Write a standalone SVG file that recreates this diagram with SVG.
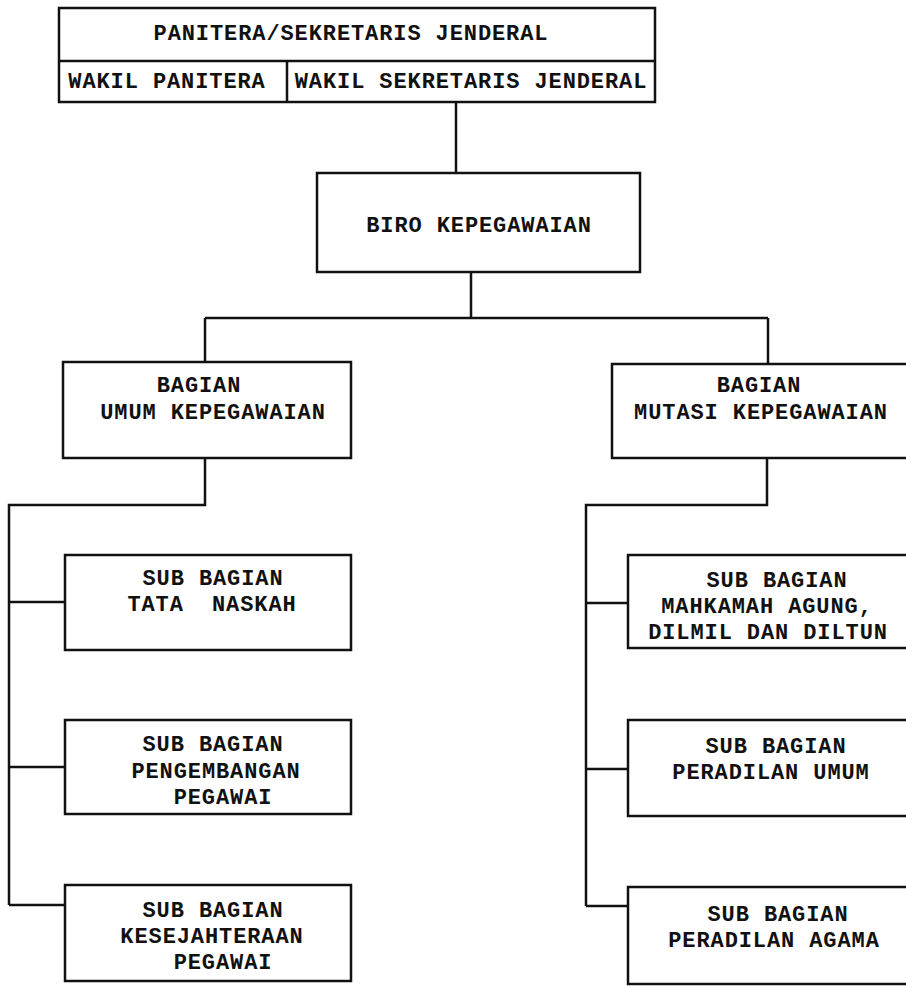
<svg xmlns="http://www.w3.org/2000/svg" width="906" height="987" viewBox="0 0 906 987">
<style>
.box{fill:#fff;stroke:#111;stroke-width:2.5}
.ln{fill:none;stroke:#111;stroke-width:2.5}
text{font-family:"Liberation Mono","DejaVu Sans Mono",monospace;font-weight:bold;font-size:22px;letter-spacing:0.9px;fill:#111;text-anchor:middle}
</style>
<rect width="906" height="987" fill="#fff"/>
<g id="connectors">
<path class="ln" d="M456,102 V173"/>
<path class="ln" d="M471,272 V318 M205,318 H768 M205,318 V362 M768,318 V364"/>
<path class="ln" d="M205,458 V505 H9 V905 M9,602 H65 M9,767 H65 M9,905 H65"/>
<path class="ln" d="M767,458 V505 H586 V906 M586,603 H628 M586,769 H628 M586,906 H628"/>
</g>
<g id="panitera">
<rect class="box" x="59" y="8" width="596" height="94"/>
<path class="ln" d="M59,61 H655 M287,61 V102"/>
<text x="351" y="40">PANITERA/SEKRETARIS JENDERAL</text>
<text x="167" y="88">WAKIL PANITERA</text>
<text x="471" y="88">WAKIL SEKRETARIS JENDERAL</text>
</g>
<g id="biro">
<rect class="box" x="317" y="173" width="323" height="99"/>
<text x="479" y="232">BIRO KEPEGAWAIAN</text>
</g>
<g id="bagian-umum">
<rect class="box" x="63" y="362" width="288" height="96"/>
<text x="199" y="392">BAGIAN</text>
<text x="213" y="419">UMUM KEPEGAWAIAN</text>
</g>
<g id="bagian-mutasi">
<rect class="box" x="612" y="364" width="300" height="94"/>
<text x="759" y="392">BAGIAN</text>
<text x="761" y="419">MUTASI KEPEGAWAIAN</text>
</g>
<g id="sub-tata-naskah">
<rect class="box" x="65" y="555" width="286" height="95"/>
<text x="213" y="585">SUB BAGIAN</text>
<text x="212" y="611" xml:space="preserve">TATA  NASKAH</text>
</g>
<g id="sub-pengembangan">
<rect class="box" x="65" y="720" width="286" height="94"/>
<text x="213" y="751">SUB BAGIAN</text>
<text x="216" y="778">PENGEMBANGAN</text>
<text x="223" y="804">PEGAWAI</text>
</g>
<g id="sub-kesejahteraan">
<rect class="box" x="65" y="885" width="286" height="96"/>
<text x="213" y="917">SUB BAGIAN</text>
<text x="212" y="943">KESEJAHTERAAN</text>
<text x="223" y="969">PEGAWAI</text>
</g>
<g id="sub-mahkamah">
<rect class="box" x="628" y="555" width="284" height="93"/>
<text x="777" y="587">SUB BAGIAN</text>
<text x="767" y="613">MAHKAMAH AGUNG,</text>
<text x="768" y="639">DILMIL DAN DILTUN</text>
</g>
<g id="sub-peradilan-umum">
<rect class="box" x="628" y="720" width="284" height="96"/>
<text x="776" y="753">SUB BAGIAN</text>
<text x="771" y="779">PERADILAN UMUM</text>
</g>
<g id="sub-peradilan-agama">
<rect class="box" x="628" y="887" width="284" height="97"/>
<text x="778" y="921">SUB BAGIAN</text>
<text x="774" y="947">PERADILAN AGAMA</text>
</g>
</svg>
